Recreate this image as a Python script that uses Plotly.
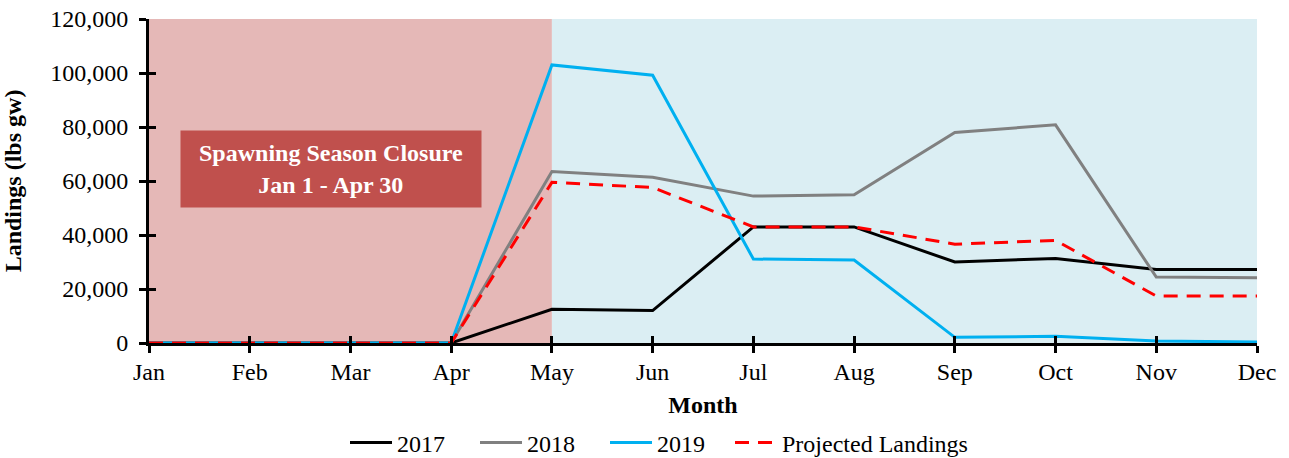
import plotly.graph_objects as go

months = ["Jan", "Feb", "Mar", "Apr", "May", "Jun", "Jul", "Aug", "Sep", "Oct", "Nov", "Dec"]
y2017 = [0, 0, 0, 0, 12500, 12000, 43000, 43000, 30000, 31300, 27200, 27200]
y2018 = [0, 0, 0, 0, 63500, 61400, 54400, 54900, 78000, 80800, 24400, 24200]
y2019 = [0, 0, 0, 0, 103000, 99200, 31100, 30700, 2100, 2500, 700, 400]
projected = [0, 0, 0, 0, 59500, 57600, 43000, 43000, 36600, 38000, 17400, 17400]

closure_start = 0
closure_end = 4

x = list(range(len(months)))
FONT = "Liberation Serif, Times New Roman, serif"

fig = go.Figure()
fig.add_trace(go.Scatter(x=x, y=y2017, name="2017", mode="lines",
                         line=dict(color="#000000", width=3)))
fig.add_trace(go.Scatter(x=x, y=y2018, name="2018", mode="lines",
                         line=dict(color="#808080", width=3)))
fig.add_trace(go.Scatter(x=x, y=y2019, name="2019", mode="lines",
                         line=dict(color="#00B0F0", width=3)))
fig.add_trace(go.Scatter(x=x, y=projected, name="Projected Landings", mode="lines",
                         legend="legend2",
                         line=dict(color="#FF0000", width=3, dash="14px,9px")))
# empty trace so the overlaid tick-only axes (inner half of the crossing ticks) are drawn
fig.add_trace(go.Scatter(x=[], y=[], xaxis="x2", yaxis="y2", showlegend=False,
                         hoverinfo="skip"))

fig.add_shape(type="rect", xref="x", yref="paper", x0=closure_start, x1=closure_end,
              y0=0, y1=1, fillcolor="#E5B8B7", line=dict(width=0), layer="below")
fig.add_shape(type="rect", xref="x", yref="paper", x0=closure_end, x1=x[-1],
              y0=0, y1=1, fillcolor="#DBEEF3", line=dict(width=0), layer="below")

fig.add_annotation(x=1.81, y=64400, xref="x", yref="y",
                   text="<b>Spawning Season Closure<br>Jan 1 - Apr 30</b>",
                   showarrow=False, bgcolor="#C0504D", width=300, height=76,
                   borderpad=0, align="center",
                   font=dict(family=FONT, size=24, color="white"))

legend_common = dict(orientation="h", xref="container", yref="container",
                     xanchor="left", y=0.033, yanchor="middle",
                     font=dict(family=FONT, size=24), itemwidth=42, tracegroupgap=0,
                     bgcolor="rgba(0,0,0,0)")

fig.update_layout(
    width=1289, height=458,
    margin=dict(l=149, r=32, t=19, b=115),
    paper_bgcolor="white", plot_bgcolor="white",
    font=dict(family=FONT, size=24, color="black"),
    showlegend=True,
    legend=dict(x=345 / 1289, entrywidth=73, entrywidthmode="pixels", **legend_common),
    legend2=dict(x=730 / 1289, **legend_common),
    xaxis2=dict(overlaying="x", matches="x", range=[0, 11], tickmode="array",
                tickvals=x, showticklabels=False, showgrid=False, zeroline=False,
                showline=False, ticks="inside", ticklen=7, tickwidth=3,
                tickcolor="black", anchor="y2"),
    yaxis2=dict(overlaying="y", matches="y", range=[0, 120000], dtick=20000,
                showticklabels=False, showgrid=False, zeroline=False,
                showline=False, ticks="inside", ticklen=7, tickwidth=3,
                tickcolor="black", anchor="x2"),
)
fig.layout.xaxis.update(range=[0, 11], tickmode="array", tickvals=x, ticktext=months,
                 showgrid=False, zeroline=False, showline=True, linecolor="black",
                 linewidth=3, ticks="outside", ticklen=7, tickwidth=3, tickcolor="black",
                 automargin=False, ticklabelstandoff=-2,
                 title=dict(text="<b>Month</b>", font=dict(family=FONT, size=24), standoff=13),
                 tickfont=dict(family=FONT, size=24))
fig.layout.yaxis.update(range=[0, 120000], dtick=20000, tickformat=",",
                 showgrid=False, zeroline=False, showline=True, linecolor="black",
                 linewidth=3, ticks="outside", ticklen=7, tickwidth=3, tickcolor="black",
                 automargin=False, ticklabelstandoff=6,
                 title=dict(text="<b>Landings (lbs gw)</b>", font=dict(family=FONT, size=24), standoff=24),
                 tickfont=dict(family=FONT, size=24))

fig.write_html("out.html", config={"displayModeBar": False},
               post_script="document.body.style.margin='0';document.body.style.overflow='hidden';")
